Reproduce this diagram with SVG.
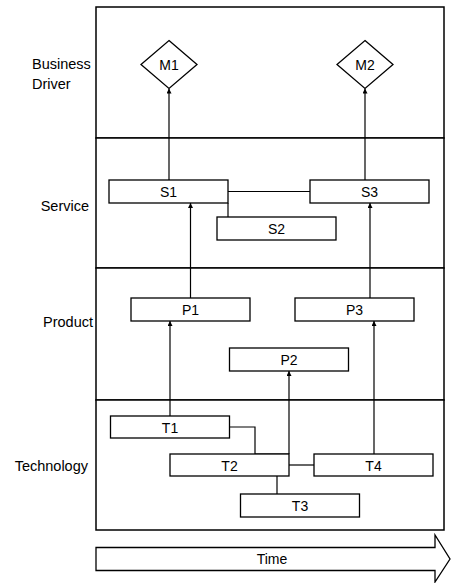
<svg xmlns="http://www.w3.org/2000/svg" width="451" height="583" viewBox="0 0 451 583">
  <style>
    .lane { fill: #fff; stroke: #000; stroke-width: 1.5; }
    .box { fill: #fff; stroke: #000; stroke-width: 1.3; }
    .lbl { font-family: "Liberation Sans", Arial, sans-serif; font-size: 14px; fill: #000; }
    .title { font-size: 14.5px; }
    .mid { text-anchor: middle; }
    .end { text-anchor: end; }
    .wire { fill: none; stroke: #000; stroke-width: 1.2; }
    .arrow { marker-end: url(#tip); }
  </style>
  <defs>
    <marker id="tip" viewBox="0 0 8 8" refX="8" refY="4" markerWidth="5" markerHeight="5" orient="auto" markerUnits="userSpaceOnUse">
      <path d="M0,0 L8,4 L0,8 Z" fill="#000"/>
    </marker>
  </defs>

  <!-- swim lanes -->
  <g id="lanes">
    <rect class="lane" x="96" y="7" width="348" height="131"/>
    <rect class="lane" x="96" y="138" width="348" height="130"/>
    <rect class="lane" x="96" y="268" width="348" height="132"/>
    <rect class="lane" x="96" y="400" width="348" height="130"/>
  </g>

  <!-- lane titles -->
  <g id="lane-titles">
    <text class="lbl title" x="32" y="69">Business</text>
    <text class="lbl title" x="32" y="89">Driver</text>
    <text class="lbl title end" x="89" y="211">Service</text>
    <text class="lbl title end" x="93" y="327">Product</text>
    <text class="lbl title end" x="88" y="471">Technology</text>
  </g>

  <!-- connectors -->
  <g id="connectors">
    <line class="wire arrow" x1="169" y1="180" x2="169" y2="88.5"/>
    <line class="wire arrow" x1="365" y1="180" x2="365" y2="88.5"/>
    <line class="wire" x1="228" y1="191.5" x2="310" y2="191.5"/>
    <line class="wire" x1="228" y1="203" x2="228" y2="217"/>
    <line class="wire arrow" x1="190.5" y1="298" x2="190.5" y2="203"/>
    <line class="wire arrow" x1="370" y1="298" x2="370" y2="203"/>
    <line class="wire arrow" x1="170" y1="416" x2="170" y2="321"/>
    <line class="wire arrow" x1="289" y1="454" x2="289" y2="371"/>
    <line class="wire arrow" x1="374" y1="454" x2="374" y2="321"/>
    <polyline class="wire" points="229,427 255,427 255,454 289,454"/>
    <line class="wire" x1="289" y1="465" x2="314" y2="465"/>
    <line class="wire" x1="277" y1="476" x2="277" y2="494"/>
  </g>

  <!-- business drivers -->
  <g id="M1">
    <polygon class="box" points="169,40.5 197,64.5 169,88.5 141,64.5"/>
    <text class="lbl mid" x="169" y="69.5">M1</text>
  </g>
  <g id="M2">
    <polygon class="box" points="365,40.5 393,64.5 365,88.5 337,64.5"/>
    <text class="lbl mid" x="365" y="69.5">M2</text>
  </g>

  <!-- services -->
  <g id="S1">
    <rect class="box" x="109" y="180" width="119" height="23"/>
    <text class="lbl mid" x="168.5" y="197">S1</text>
  </g>
  <g id="S3">
    <rect class="box" x="310" y="180" width="119" height="23"/>
    <text class="lbl mid" x="369.5" y="197">S3</text>
  </g>
  <g id="S2">
    <rect class="box" x="217" y="217" width="119" height="23"/>
    <text class="lbl mid" x="276.5" y="234">S2</text>
  </g>

  <!-- products -->
  <g id="P1">
    <rect class="box" x="131" y="298" width="119" height="23"/>
    <text class="lbl mid" x="190.5" y="315">P1</text>
  </g>
  <g id="P3">
    <rect class="box" x="295" y="298" width="119" height="23"/>
    <text class="lbl mid" x="354.5" y="315">P3</text>
  </g>
  <g id="P2">
    <rect class="box" x="229.5" y="348" width="119" height="23"/>
    <text class="lbl mid" x="289" y="365">P2</text>
  </g>

  <!-- technologies -->
  <g id="T1">
    <rect class="box" x="110.5" y="416" width="119" height="22"/>
    <text class="lbl mid" x="170" y="432.5">T1</text>
  </g>
  <g id="T2">
    <rect class="box" x="170" y="454" width="119" height="22"/>
    <text class="lbl mid" x="229.5" y="470.5">T2</text>
  </g>
  <g id="T4">
    <rect class="box" x="314" y="454" width="119" height="22"/>
    <text class="lbl mid" x="373.5" y="470.5">T4</text>
  </g>
  <g id="T3">
    <rect class="box" x="240.5" y="494" width="119" height="23"/>
    <text class="lbl mid" x="300" y="511">T3</text>
  </g>

  <!-- time axis -->
  <g id="time">
    <polygon class="box" points="96,547.5 435,547.5 435,535 450,559 435,582 435,570.5 96,570.5"/>
    <text class="lbl mid" x="272" y="564">Time</text>
  </g>
</svg>
